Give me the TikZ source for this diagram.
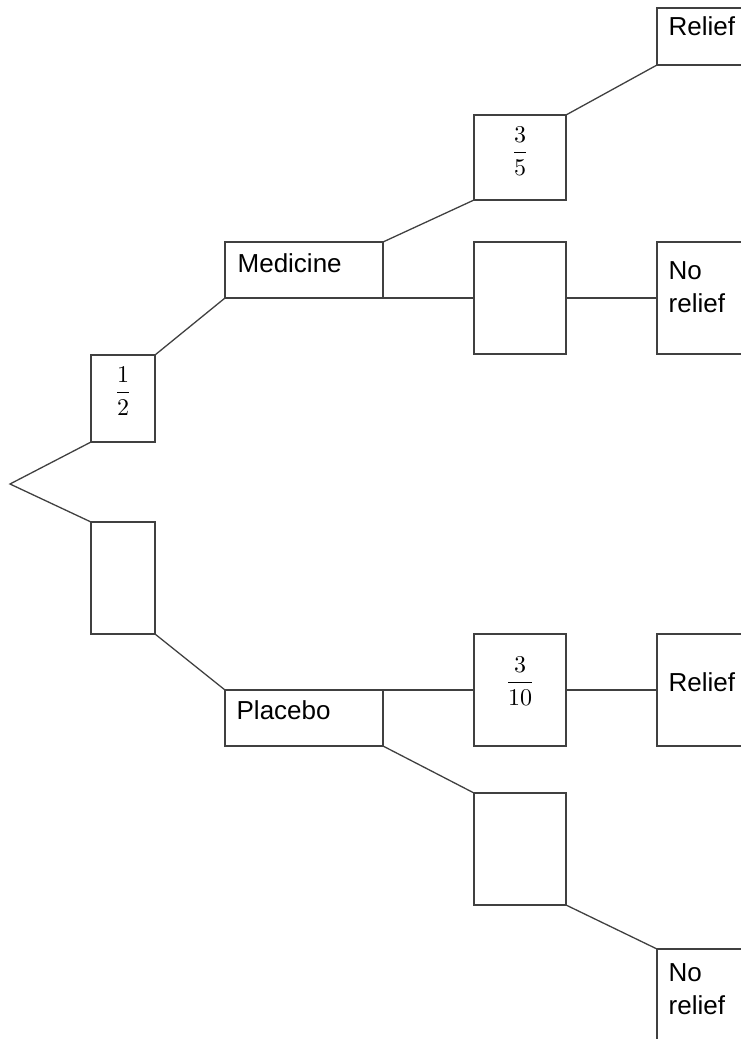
\documentclass[tikz,border=0pt]{standalone}
\usepackage{amsmath}
\usepackage{fontspec}
\setmainfont{Liberation Sans}
\tikzset{
  box/.style={draw, rectangle, anchor=north west, inner sep=0pt, outer sep=0pt},
  lbl/.style={anchor=north west, inner sep=0pt, align=left, text=black,
    font=\fontsize{26}{33}\selectfont},
  fracnum/.style={inner sep=0pt, text=black}
}
\newcommand{\bigfrac}[2]{\scalebox{2.4}{$\dfrac{#1}{#2}$}}

\begin{document}
\begin{tikzpicture}[x=1pt, y=-1pt, line width=1.3pt, color=black!75]
  \useasboundingbox (0,0) rectangle (741,1039);
  \clip (0,0) rectangle (741,1039);

  % first stage
  \coordinate (root) at (10,484);
  \node [box, minimum width=64, minimum height=87] (half) at (91,355) {};
  \node [box, minimum width=64, minimum height=112] (blankA) at (91,522) {};
  \node [fracnum] (halftxt) at ([yshift=-36]half.north) {\bigfrac{1}{2}};

  % treatment
  \node [box, minimum width=158, minimum height=56] (med) at (225,242) {};
  \node [box, minimum width=158, minimum height=56] (plac) at (225,690) {};
  \node [lbl] (medtxt) at ([shift={(12,11)}]med.north west) {Medicine};
  \node [lbl] (plactxt) at ([shift={(11,10)}]plac.north west) {Placebo};

  % second stage
  \node [box, minimum width=92, minimum height=85] (threefifths) at (474,115) {};
  \node [box, minimum width=92, minimum height=112] (blankB) at (474,242) {};
  \node [box, minimum width=92, minimum height=112] (threetenths) at (474,634) {};
  \node [box, minimum width=92, minimum height=112] (blankC) at (474,793) {};
  \node [fracnum] (tftxt) at ([yshift=-36]threefifths.north) {\bigfrac{3}{5}};
  \node [fracnum] (tttxt) at ([yshift=-47]threetenths.north) {\bigfrac{3}{10}};

  % outcomes
  \node [box, minimum width=120, minimum height=57] (reliefA) at (657,8) {};
  \node [box, minimum width=120, minimum height=112] (noreliefA) at (657,242) {};
  \node [box, minimum width=120, minimum height=112] (reliefB) at (657,634) {};
  \node [box, minimum width=120, minimum height=112] (noreliefB) at (657,949) {};
  \node [lbl] (reliefAtxt) at ([shift={(11,8)}]reliefA.north west) {Relief};
  \node [lbl] (noreliefAtxt) at ([shift={(11,19)}]noreliefA.north west) {No\\relief};
  \node [lbl] (reliefBtxt) at ([shift={(11,38)}]reliefB.north west) {Relief};
  \node [lbl] (noreliefBtxt) at ([shift={(11,14)}]noreliefB.north west) {No\\relief};

  % branches
  \draw (half.south west) -- (root) -- (blankA.north west);
  \draw (half.north east) -- (med.south west);
  \draw (blankA.south east) -- (plac.north west);
  \draw (med.north east) -- (threefifths.south west);
  \draw (threefifths.north east) -- (reliefA.south west);
  \draw (med.south east) -- (blankB.west);
  \draw (blankB.east) -- (noreliefA.west);
  \draw (plac.north east) -- (threetenths.west);
  \draw (threetenths.east) -- (reliefB.west);
  \draw (plac.south east) -- (blankC.north west);
  \draw (blankC.south east) -- (noreliefB.north west);
\end{tikzpicture}
\end{document}
